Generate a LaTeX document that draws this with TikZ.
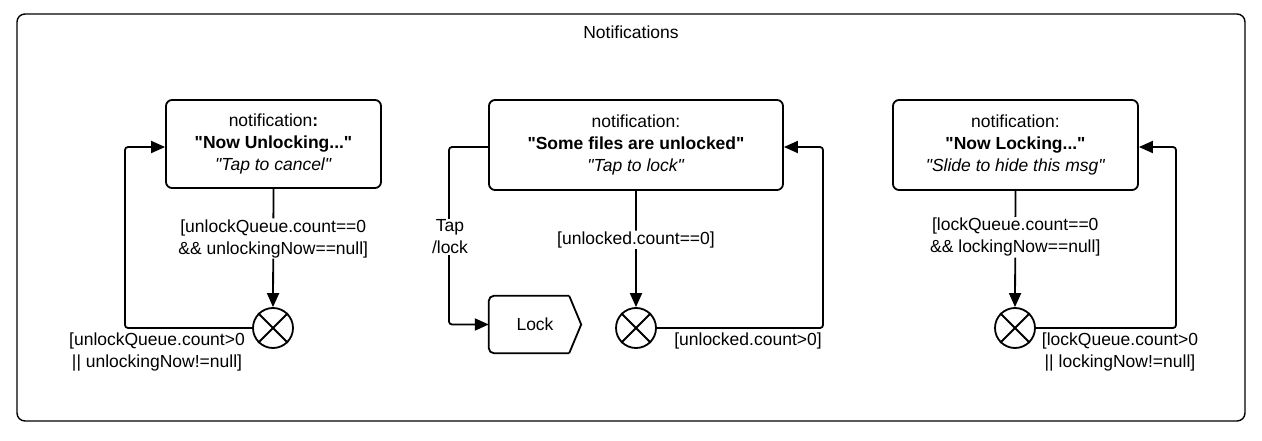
\documentclass[tikz,border=0pt]{standalone}
\usepackage{fontspec}
\setmainfont{Liberation Sans}[Ligatures=TeXOff]
\usetikzlibrary{arrows.meta}
\begin{document}
\begin{tikzpicture}[x=1pt,y=-1pt,
  every node/.style={font=\fontsize{17.5}{22}\selectfont},
  statebox/.style={draw, line width=1.8pt, rounded corners=6pt, align=center, inner sep=0pt},
  junction/.style={draw, circle, line width=1.8pt, minimum size=40pt, inner sep=0pt},
  conn/.style={line width=1.8pt, rounded corners=3pt},
  arr/.style={conn, -{Triangle[length=14pt,width=12pt]}},
  lbl/.style={fill=white, align=center, inner sep=1pt},
  xmark/.style={line width=1.8pt}]
\useasboundingbox (0,0) rectangle (1262,441);
% frame
\draw[line width=1.4pt, rounded corners=8pt] (17,14) rectangle (1245,421);
\node (title) at (631,32) {Notifications};
% states
\node[statebox, minimum width=215pt, minimum height=88pt] (b1) at (273.5,144)
  {notification\textbf{:}\\ \textbf{"Now Unlocking..."}\\ \textit{"Tap to cancel"}};
\node[statebox, minimum width=294pt, minimum height=90pt] (b2) at (636,145)
  {notification:\\ \textbf{"Some files are unlocked"}\\ \textit{"Tap to lock"}};
\node[statebox, minimum width=245pt, minimum height=90pt] (b3) at (1015.5,145)
  {notification:\\ \textbf{"Now Locking..."}\\ \textit{"Slide to hide this msg"}};
% junctions
\foreach \n/\x in {x1/273, x2/636, x3/1015} {
  \node[junction] (\n) at (\x,328) {};
  \draw[xmark] (\n.north west) -- (\n.south east) (\n.north east) -- (\n.south west);
}
% lock node
\node[minimum width=92pt, minimum height=57pt, inner sep=0pt] (lock) at (535,324.5) {Lock};
\draw[line width=1.8pt, line join=round]
  ([xshift=-12pt]lock.north east) -- (lock.north east |- lock.east) -- ([xshift=-12pt]lock.south east);
\draw[line width=1.8pt, rounded corners=5pt]
  ([xshift=-12pt]lock.north east) -- (lock.north west) -- (lock.south west) -- ([xshift=-12pt]lock.south east);
% coordinates for loops
\coordinate (c1) at (125,147);
\coordinate (c2) at (449,240);
\coordinate (c3) at (823,147);
\coordinate (c4) at (1176,147);
% connectors
\draw[arr] (b1.south) -- node[lbl, pos=0.42] {[unlockQueue.count==0\\ \&\& unlockingNow==null]} (x1.north);
\draw[arr] (x1.west) -| (c1) -- ([yshift=-3pt]b1.west);
\node[align=center, inner sep=0pt] (l1) at (157,352) {[unlockQueue.count>0\\ || unlockingNow!=null]};

\draw[arr] ([yshift=-2pt]b2.west) -| (c2) |- (lock.west);
\node[lbl] (l2) at (450,237) {Tap\\ /lock};
\draw[arr] (b2.south) -- node[lbl, pos=0.42] {[unlocked.count==0]} (x2.north);
\draw[arr] (x2.east) -| (c3) -- ([yshift=-2pt]b2.east);
\node[inner sep=0pt] (l3) at (748,341) {[unlocked.count>0]};

\draw[arr] (b3.south) -- node[lbl, pos=0.4] {[lockQueue.count==0\\ \&\& lockingNow==null]} (x3.north);
\draw[arr] (x3.east) -| (c4) -- ([yshift=-2pt]b3.east);
\node[align=center, inner sep=0pt] (l4) at (1120,352) {[lockQueue.count>0\\ || lockingNow!=null]};
\end{tikzpicture}
\end{document}
